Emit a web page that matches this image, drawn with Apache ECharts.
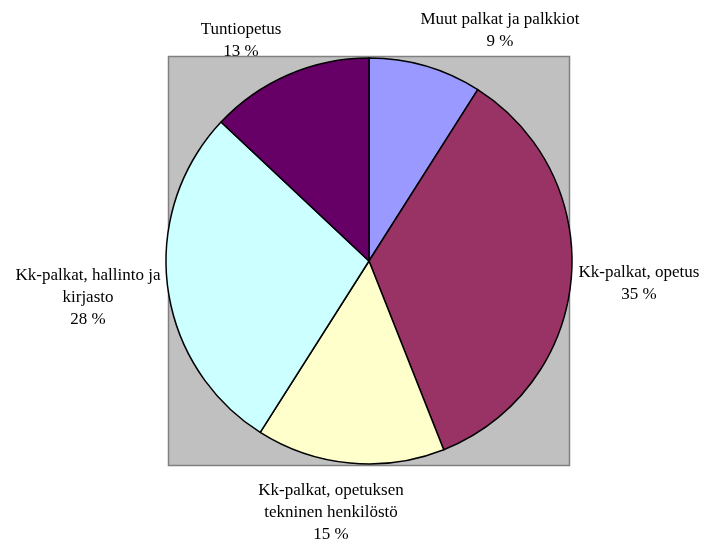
<!DOCTYPE html>
<html>
<head>
<meta charset="utf-8">
<script src="https://cdn.jsdelivr.net/npm/echarts@6/dist/echarts.min.js"></script>
<style>
  html, body { margin: 0; padding: 0; background: #fff; }
</style>
</head>
<body>
<div id="main" style="width: 704px;height:546px;"></div>
<script>
// kategoriat ja osuudet (%)
var names = [
  "Muut palkat ja palkkiot",
  "Kk-palkat, opetus",
  "Kk-palkat, opetuksen\ntekninen henkilöstö",
  "Kk-palkat, hallinto ja\nkirjasto",
  "Tuntiopetus"
];
var values = [9, 35, 15, 28, 13];
var colors = ["#9999FF", "#993366", "#FFFFCC", "#CCFFFF", "#660066"];

// label centres
var labelPos = [[500, 31], [639, 284], [331, 513], [88, 298], [241, 41]];

var myChart = echarts.init(document.getElementById("main"));
var data = [];
for (var i = 0; i < names.length; i++) {
  data.push({ name: names[i], value: values[i], itemStyle: { color: colors[i] } });
}

var option = {
  animation: false,
  graphic: [
    {
      type: "rect",
      z: -10,
      shape: { x: 168.5, y: 56.5, width: 401, height: 409 },
      style: { fill: "#C0C0C0", stroke: "#808080", lineWidth: 1.5 }
    }
  ],
  series: [
    {
      type: "pie",
      center: [369, 261],
      radius: 203,
      startAngle: 90,
      clockwise: true,
      data: data,
      itemStyle: { borderColor: "#000", borderWidth: 1.5 },
      label: {
        show: true,
        position: "outside",
        overflow: "none",
        fontFamily: "Liberation Serif",
        fontSize: 17,
        lineHeight: 22,
        color: "#000",
        align: "center",
        formatter: function (p) { return p.name + "\n" + p.value + " %"; }
      },
      labelLine: { show: false },
      labelLayout: function (params) {
        var pos = labelPos[params.dataIndex];
        return { x: pos[0], y: pos[1], align: "center", verticalAlign: "middle", width: 300 };
      },
      emphasis: { disabled: true }
    }
  ]
};
myChart.setOption(option);
</script>
</body>
</html>
